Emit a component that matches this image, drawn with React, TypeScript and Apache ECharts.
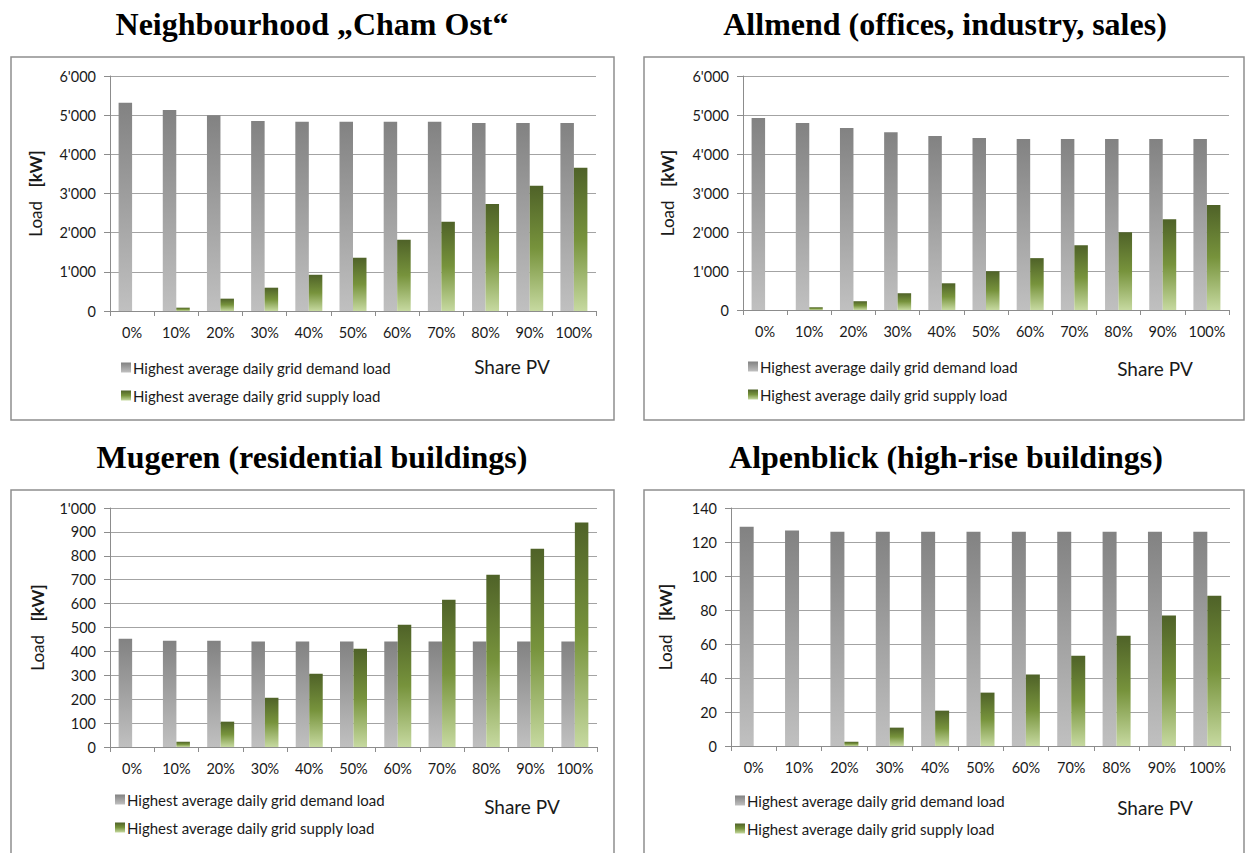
import React, { useEffect, useRef } from "react";
import * as echarts from "echarts";

const categories = ["0%", "10%", "20%", "30%", "40%", "50%", "60%", "70%", "80%", "90%", "100%"];

const chamDemand = [5320, 5130, 5000, 4850, 4830, 4830, 4830, 4830, 4800, 4800, 4800];
const chamSupply = [0, 85, 315, 595, 925, 1360, 1820, 2280, 2735, 3195, 3655];
const allmendDemand = [4920, 4795, 4665, 4560, 4460, 4410, 4385, 4385, 4385, 4385, 4385];
const allmendSupply = [0, 70, 225, 430, 685, 995, 1330, 1660, 1995, 2330, 2690];
const mugerenDemand = [453, 445, 445, 441, 441, 441, 441, 441, 441, 441, 441];
const mugerenSupply = [0, 22, 106, 206, 307, 411, 512, 616, 721, 830, 939];
const alpenDemand = [129, 126.7, 126.1, 126.1, 126.1, 126.1, 126.1, 126.1, 126.1, 126.1, 126.1];
const alpenSupply = [0, 0, 2.5, 10.8, 20.8, 31.4, 42, 53.1, 64.9, 76.7, 88.4];

const titles = [
  "Neighbourhood \u201ECham Ost\u201C",
  "Allmend (offices, industry, sales)",
  "Mugeren (residential buildings)",
  "Alpenblick (high-rise buildings)",
];
const demandName = "Highest average daily grid demand load";
const supplyName = "Highest average daily grid supply load";
const xName = "Share PV";
const yMax = [6000, 6000, 1000, 140];
const yInterval = [1000, 1000, 100, 20];

const FONT = "Lato, 'Liberation Sans', sans-serif";
const TXT = "#1a1a1a";

const fmt = (v: number) => String(v).replace(/\B(?=(\d{3})+(?!\d))/g, "'");

export default function App() {
  const ref = useRef<HTMLDivElement>(null);
  useEffect(() => {
    if (!ref.current) return;
    const chart = echarts.init(ref.current, null, { renderer: "svg" });

    const grayGrad = new echarts.graphic.LinearGradient(0, 0, 0, 1, [
      { offset: 0, color: "#828282" },
      { offset: 1, color: "#c0c0c0" },
    ]);
    const greenGrad = new echarts.graphic.LinearGradient(0, 0, 0, 1, [
      { offset: 0, color: "#4f6228" },
      { offset: 0.5, color: "#77933c" },
      { offset: 1, color: "#c6d9a0" },
    ]);

    const grids = [
      { left: 110, top: 76, width: 486, height: 235 },
      { left: 743, top: 76, width: 486, height: 234 },
      { left: 110, top: 508, width: 487, height: 239 },
      { left: 731, top: 508, width: 499, height: 238 },
    ];
    const nameGaps = [66, 67, 64, 57];
    const barW = [13.5, 13.5, 13.5, 14];
    const demands = [chamDemand, allmendDemand, mugerenDemand, alpenDemand];
    const supplies = [chamSupply, allmendSupply, mugerenSupply, alpenSupply];

    const boxes = [
      { x: 11, y: 57, w: 603, h: 363 },
      { x: 644, y: 57, w: 600, h: 363 },
      { x: 11, y: 490, w: 603, h: 380 },
      { x: 644, y: 490, w: 600, h: 380 },
    ];
    const titlePos = [
      { x: 312, y: 24 },
      { x: 945, y: 24 },
      { x: 312, y: 457 },
      { x: 946, y: 457 },
    ];
    const legendPos = [
      { left: 116, top: 355 },
      { left: 743, top: 354 },
      { left: 110, top: 787 },
      { left: 730, top: 788 },
    ];
    const sharePos = [
      { x: 512, y: 366 },
      { x: 1155, y: 368 },
      { x: 522, y: 806 },
      { x: 1155, y: 807 },
    ];

    const graphic: any[] = [];
    boxes.forEach((b) => {
      graphic.push({
        type: "rect",
        shape: { x: b.x, y: b.y, width: b.w, height: b.h },
        style: { fill: "none", stroke: "#8f8f8f", lineWidth: 1.5 },
        silent: true,
      });
    });
    titlePos.forEach((p, i) => {
      graphic.push({
        type: "text",
        x: p.x,
        y: p.y,
        style: {
          text: titles[i],
          font: "bold 32px 'Liberation Serif', 'Times New Roman', serif",
          fill: "#000",
          align: "center",
          verticalAlign: "middle",
        },
      });
    });
    sharePos.forEach((p) => {
      graphic.push({
        type: "text",
        x: p.x,
        y: p.y,
        style: {
          text: xName,
          font: "19px " + FONT,
          fill: TXT,
          align: "center",
          verticalAlign: "middle",
        },
      });
    });

    const option: any = {
      animation: false,
      backgroundColor: "#ffffff",
      grid: grids.map((g) => ({ ...g, containLabel: false })),
      xAxis: grids.map((_, i) => ({
        type: "category",
        gridIndex: i,
        data: categories,
        axisLine: { lineStyle: { color: "#8c8c8c", width: 1 } },
        axisTick: { show: true, length: 5, lineStyle: { color: "#8c8c8c" } },
        axisLabel: { color: TXT, fontSize: 14.5, fontFamily: FONT, margin: 14, interval: 0 },
      })),
      yAxis: grids.map((_, i) => ({
        type: "value",
        gridIndex: i,
        min: 0,
        max: yMax[i],
        interval: yInterval[i],
        axisLine: { show: true, lineStyle: { color: "#8c8c8c", width: 1 } },
        axisTick: { show: true, length: 6, lineStyle: { color: "#8c8c8c" } },
        splitLine: { show: true, lineStyle: { color: "#a3a3a3", width: 1 } },
        axisLabel: { color: TXT, fontSize: 14.5, fontFamily: FONT, margin: 14, formatter: (v: number) => fmt(v) },
        name: "{a|Load}    {b|[kW]}",
        nameLocation: "middle",
        nameRotate: 90,
        nameGap: nameGaps[i],
        nameTextStyle: {
          rich: {
            a: { fontSize: 17, fontFamily: FONT, color: TXT },
            b: { fontSize: 17, fontFamily: FONT, color: TXT, fontWeight: "bold" },
          },
        },
      })),
      legend: legendPos.map((p) => ({
        left: p.left,
        top: p.top,
        orient: "vertical",
        itemWidth: 10,
        itemHeight: 10,
        itemGap: 13,
        icon: "rect",
        selectedMode: false,
        data: [demandName, supplyName],
        textStyle: { color: TXT, fontSize: 15, fontFamily: FONT, padding: [0, 0, 0, -3] },
      })),
      series: grids.flatMap((_, i) => [
        {
          type: "bar",
          name: demandName,
          xAxisIndex: i,
          yAxisIndex: i,
          data: demands[i],
          barWidth: barW[i],
          barGap: "0%",
          itemStyle: { color: grayGrad },
        },
        {
          type: "bar",
          name: supplyName,
          xAxisIndex: i,
          yAxisIndex: i,
          data: supplies[i],
          barWidth: barW[i],
          barGap: "0%",
          itemStyle: { color: greenGrad },
        },
      ]),
      graphic,
    };
    chart.setOption(option);
    return () => chart.dispose();
  }, []);

  return (
    <div
      ref={ref}
      style={{ position: "absolute", left: 0, top: 0, width: 1247, height: 853, background: "#fff" }}
    />
  );
}
